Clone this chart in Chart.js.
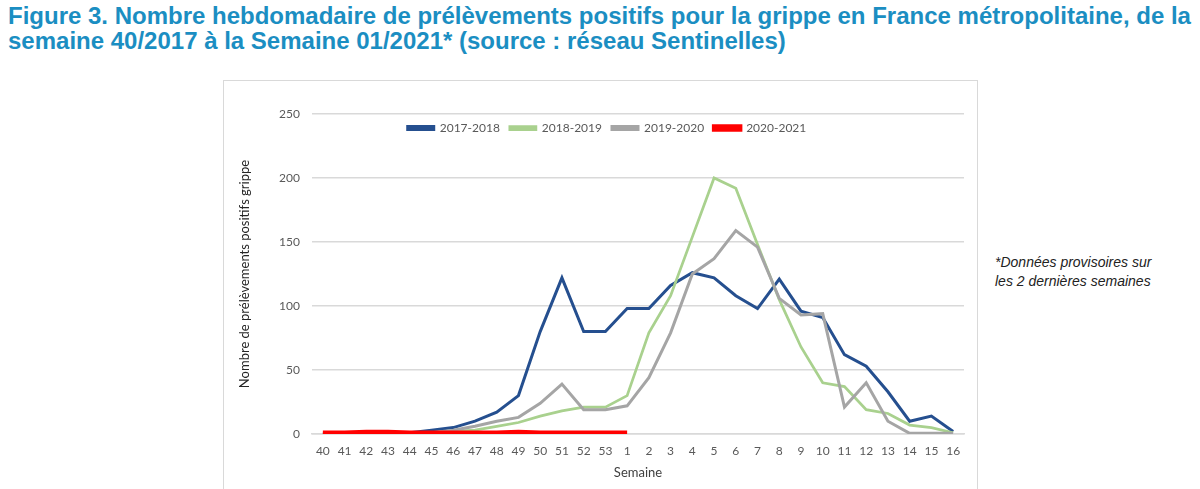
<!DOCTYPE html>
<html>
<head>
<meta charset="utf-8">
<script src="https://cdn.jsdelivr.net/npm/chart.js@4"></script>
<style>
  html, body { margin: 0; padding: 0; background: #fff; }
  body { width: 1200px; height: 489px; position: relative; overflow: hidden; }
  #title {
    position: absolute; left: 8px; top: 3px; width: 1192px; white-space: nowrap;
    font-family: "Liberation Sans", Arial, sans-serif; font-weight: bold;
    font-size: 24px; line-height: 25px; color: #1b8ec2;
  }
  #box {
    position: absolute; left: 223px; top: 80px; width: 755px; height: 430px;
    border: 1.5px solid #d9d9d9; box-sizing: border-box;
  }
  #note {
    position: absolute; left: 995px; top: 253px;
    font-family: "Liberation Sans", Arial, sans-serif; font-style: italic;
    font-size: 14px; line-height: 19px; color: #222;
  }
  #chart { position: absolute; left: 0; top: 0; }
</style>
</head>
<body>
<div id="title">Figure 3. Nombre hebdomadaire de prélèvements positifs pour la grippe en France métropolitaine, de la<br>semaine 40/2017 à la Semaine 01/2021* (source : réseau Sentinelles)</div>
<div id="box"></div>
<div id="note">*Données provisoires sur<br>les 2 dernières semaines</div>
<canvas id="chart" width="1200" height="489"></canvas>
<script>
// semaines 40 -> 53 puis 1 -> 16
var weekLabels = ['40','41','42','43','44','45','46','47','48','49','50','51','52','53',
                  '1','2','3','4','5','6','7','8','9','10','11','12','13','14','15','16'];

var season1718 = [0,0,0,0,1,3,5,10,17,30,80,122,80,80,98,98,116,126,122,108,98,121,96,91,62,53,33,10,14,2];
var season1819 = [0,0,0,0,0,1,2,3,6,9,14,18,21,21,30,79,108,154,200,192,148,105,68,40,37,19,16,7,5,1];
var season1920 = [0,0,0,0,0,1,3,6,10,13,24,39,19,19,22,44,79,125,137,159,146,106,93,94,21,40,10,0.5,0.5,0.5];
var season2021 = [1,1,1.5,1.5,1,1,1,1,1,1.5,1,1,1,1,1,null,null,null,null,null,null,null,null,null,null,null,null,null,null,null];

var yTicks = { min: 0, max: 250, step: 50 };

var textGrey = '#595959';
var gridGrey = '#d9d9d9';

function lineSet(label, data, color, width, order){
    return {
        label: label,
        data: data,
        borderColor: color,
        backgroundColor: color,
        borderWidth: width,
        pointRadius: 0,
        tension: 0,
        fill: false,
        spanGaps: false,
        order: order
    };
}

// the legend sits inside the plot in the original: move it down and a bit right
var legendShift = {
    id: 'legendShift',
    afterLayout: function(chart){
        var lg = chart.legend;
        if (lg) {
            var dy = chart.chartArea.top - lg.top - 2;
            lg.top += dy;
            lg.bottom += dy;
            lg.left += 20;
        }
    }
};

var ctx = document.getElementById('chart').getContext('2d');
var fluChart = new Chart(ctx, {
    type: 'line',
    data: {
        labels: weekLabels,
        datasets: [
            lineSet('2017-2018', season1718, '#254f8f', 3, 4),
            lineSet('2018-2019', season1819, '#a9d18e', 2.75, 3),
            lineSet('2019-2020', season1920, '#a5a5a5', 3, 2),
            lineSet('2020-2021', season2021, '#ff0000', 4.5, 1)
        ]
    },
    options: {
        responsive: false,
        animation: false,
        devicePixelRatio: 1,
        layout: { padding: { left: 230, right: 236, top: 82, bottom: 5 } },
        plugins: {
            legend: {
                position: 'top',
                align: 'center',
                labels: {
                    boxWidth: 26,
                    boxHeight: 3,
                    padding: 10,
                    color: textGrey,
                    font: { family: 'Lato', size: 12 },
                    sort: function(a, b){ return a.datasetIndex - b.datasetIndex; }
                }
            },
            tooltip: { enabled: false }
        },
        scales: {
            x: {
                offset: true,
                grid: { display: false, drawTicks: false },
                border: { display: true, color: gridGrey, width: 1.5 },
                ticks: { color: textGrey, font: { family: 'Lato', size: 12 }, padding: 10, maxRotation: 0, autoSkip: false },
                title: { display: true, text: 'Semaine', color: '#404040', font: { family: 'Lato', size: 13 }, padding: { top: 0, bottom: 3 } },
                afterFit: function(scale){ scale.height = 50; }
            },
            y: {
                min: yTicks.min,
                max: yTicks.max,
                grid: { color: gridGrey, lineWidth: 1.5, drawTicks: false },
                border: { display: false },
                ticks: { stepSize: yTicks.step, color: textGrey, font: { family: 'Lato', size: 12 }, padding: 12 },
                title: { display: true, text: 'Nombre de prélèvements positifs grippe', color: '#262626', font: { family: 'Lato', size: 13 }, padding: { top: 7, bottom: 0 } },
                afterFit: function(scale){ scale.width = 82; }
            }
        }
    },
    plugins: [legendShift]
});
</script>
</body>
</html>
